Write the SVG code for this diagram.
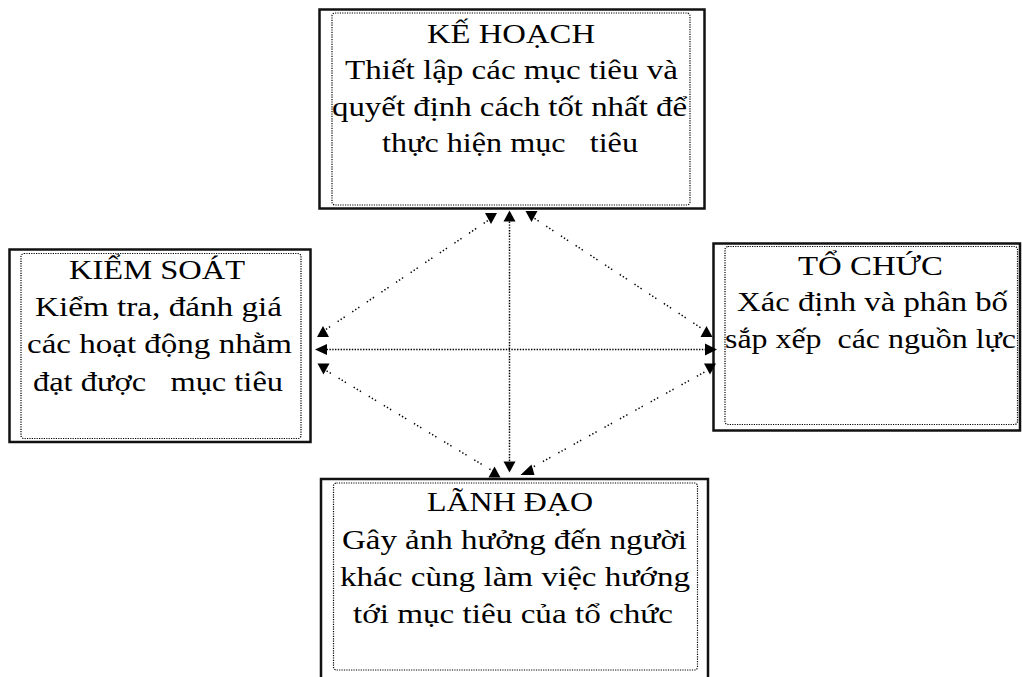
<svg xmlns="http://www.w3.org/2000/svg" width="1022" height="677" viewBox="0 0 1022 677">
<style>
  .outer { fill: #ffffff; stroke: #111111; stroke-width: 2.5; }
  .inner { fill: none; stroke: #000000; stroke-width: 1.2; stroke-dasharray: 1.2 1.2; }
  .t { font-family: "Liberation Serif", "Times New Roman", serif; font-size: 28px; fill: #000000; white-space: pre; }
  .straight { fill: none; stroke: #000000; stroke-width: 1.5; stroke-dasharray: 1.4 1.4; }
  .diag { fill: none; stroke: #000000; stroke-width: 1.5; stroke-dasharray: 1.4 2.2 1.4 2.2 1.4 9; }
</style>
<defs>
  <marker id="au" markerUnits="userSpaceOnUse" markerWidth="14" markerHeight="14" refX="6" refY="6" orient="0" overflow="visible">
    <path d="M0,11.5 L6,0.5 L12,11.5 Z" fill="#000"/>
  </marker>
  <marker id="ad" markerUnits="userSpaceOnUse" markerWidth="14" markerHeight="14" refX="6" refY="6" orient="0" overflow="visible">
    <path d="M0,0.5 L12,0.5 L6,11.5 Z" fill="#000"/>
  </marker>
  <marker id="al" markerUnits="userSpaceOnUse" markerWidth="14" markerHeight="14" refX="6" refY="6" orient="0" overflow="visible">
    <path d="M0,6 L12,0.5 L12,11.5 Z" fill="#000"/>
  </marker>
  <marker id="ar" markerUnits="userSpaceOnUse" markerWidth="14" markerHeight="14" refX="6" refY="6" orient="0" overflow="visible">
    <path d="M13,6 L1,0 L1,12 Z" fill="#000"/>
  </marker>
  <marker id="adl" markerUnits="userSpaceOnUse" markerWidth="16" markerHeight="14" refX="7" refY="6" orient="0" overflow="visible">
    <path d="M0,11 L11,0.5 L14,11 Z" fill="#000"/>
  </marker>
</defs>

<rect x="0" y="0" width="1022" height="677" fill="#ffffff"/>

<g id="node-ke-hoach">
  <rect class="outer" x="319.5" y="9.5" width="385" height="199"/>
  <rect class="inner" x="332" y="13" width="358" height="192" rx="3"/>
  <text class="t" x="427" y="42.5" textLength="168" lengthAdjust="spacingAndGlyphs">KẾ HOẠCH</text>
  <text class="t" x="345" y="79" textLength="333" lengthAdjust="spacingAndGlyphs">Thiết lập các mục tiêu và</text>
  <text class="t" x="332" y="115.5" textLength="355" lengthAdjust="spacingAndGlyphs">quyết định cách tốt nhất để</text>
  <text class="t" x="382" y="152" textLength="256" lengthAdjust="spacingAndGlyphs" xml:space="preserve">thực hiện mục   tiêu</text>
</g>

<g id="node-kiem-soat">
  <rect class="outer" x="9.5" y="249.5" width="301" height="192.5"/>
  <rect class="inner" x="21" y="253.5" width="280" height="185" rx="3"/>
  <text class="t" x="69" y="278.5" textLength="176" lengthAdjust="spacingAndGlyphs">KIỂM SOÁT</text>
  <text class="t" x="35" y="316" textLength="247" lengthAdjust="spacingAndGlyphs">Kiểm tra, đánh giá</text>
  <text class="t" x="27" y="353" textLength="265" lengthAdjust="spacingAndGlyphs">các hoạt động nhằm</text>
  <text class="t" x="33" y="390.5" textLength="250" lengthAdjust="spacingAndGlyphs" xml:space="preserve">đạt được   mục tiêu</text>
</g>

<g id="node-to-chuc">
  <rect class="outer" x="713.5" y="243.5" width="306.5" height="187"/>
  <rect class="inner" x="725" y="246.5" width="292.5" height="178" rx="3"/>
  <text class="t" x="798" y="274.5" textLength="145" lengthAdjust="spacingAndGlyphs">TỔ CHỨC</text>
  <text class="t" x="737" y="311" textLength="271" lengthAdjust="spacingAndGlyphs">Xác định và phân bố</text>
  <text class="t" x="725" y="347.5" textLength="291" lengthAdjust="spacingAndGlyphs" xml:space="preserve">sắp xếp  các nguồn lực</text>
</g>

<g id="node-lanh-dao">
  <rect class="outer" x="321" y="479" width="387" height="220"/>
  <rect class="inner" x="333.5" y="483" width="364" height="187" rx="3"/>
  <text class="t" x="427" y="511" textLength="166" lengthAdjust="spacingAndGlyphs">LÃNH ĐẠO</text>
  <text class="t" x="342" y="549" textLength="345" lengthAdjust="spacingAndGlyphs">Gây ảnh hưởng đến người</text>
  <text class="t" x="340" y="586" textLength="350" lengthAdjust="spacingAndGlyphs">khác cùng làm việc hướng</text>
  <text class="t" x="353" y="623" textLength="320" lengthAdjust="spacingAndGlyphs">tới mục tiêu của tổ chức</text>
</g>

<g id="connectors">
  <line class="straight" x1="509.5" y1="216" x2="509.5" y2="467" marker-start="url(#au)" marker-end="url(#ad)"/>
  <line class="straight" x1="321" y1="349.5" x2="710" y2="349.5" marker-start="url(#al)" marker-end="url(#ar)"/>
  <line class="diag" x1="323" y1="331.5" x2="491" y2="218.5" marker-start="url(#au)" marker-end="url(#ad)"/>
  <line class="diag" x1="531.5" y1="216.5" x2="706.5" y2="331.5" marker-start="url(#ad)" marker-end="url(#au)"/>
  <line class="diag" x1="323.5" y1="369" x2="494.5" y2="472" marker-start="url(#ad)" marker-end="url(#au)"/>
  <line class="diag" x1="527.5" y1="470" x2="710" y2="369" marker-start="url(#adl)" marker-end="url(#ad)"/>
</g>
</svg>
